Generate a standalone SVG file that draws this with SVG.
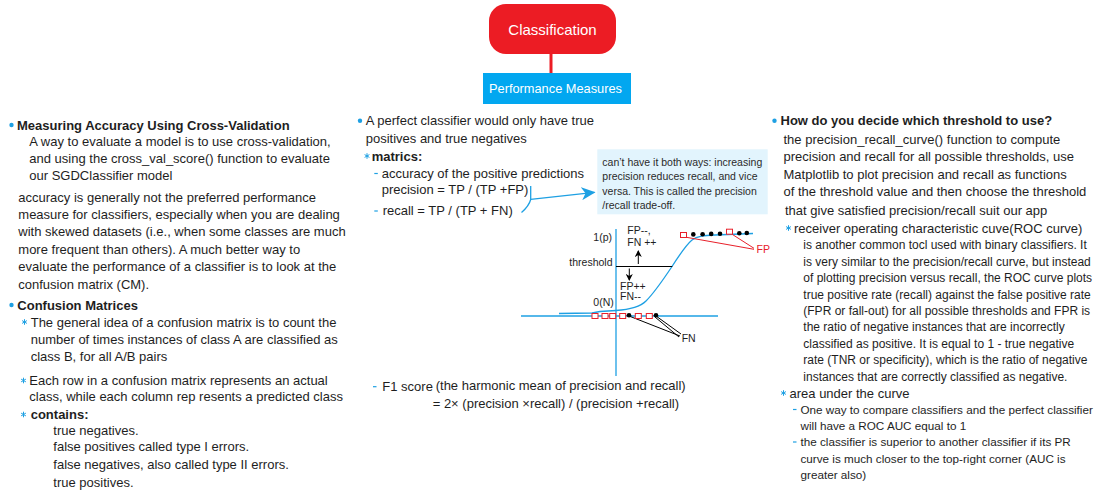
<svg xmlns="http://www.w3.org/2000/svg" xmlns:xlink="http://www.w3.org/1999/xlink" width="1096" height="492" viewBox="0 0 1096 492">
<style>
text{font-family:"Liberation Sans",Arial,sans-serif;fill:#1e1e1e}
.t{font-size:13px}
.b{font-size:13px;font-weight:bold}
.s{font-size:12px}
.ss{font-size:11.7px}
.c{font-size:10.5px;fill:#2a2a2a}
.g{font-size:10.5px}
.dot{fill:#1EA0E3}
.dash{stroke:#1EA0E3;stroke-width:1.2}
.ax{stroke:#1EA0E3;stroke-width:1.3;fill:none}
.sq{fill:#fff;stroke:#E8202A;stroke-width:1}
.rl{stroke:#E8202A;stroke-width:1;fill:none}
.bl{stroke:#000;stroke-width:1;fill:none}
</style>
<defs>
<g id="star"><path d="M0,-2.8V2.8M-2.4,-1.4L2.4,1.4M-2.4,1.4L2.4,-1.4" stroke="#1EA0E3" stroke-width="1" fill="none"/></g>
<marker id="bluearrow" markerWidth="14" markerHeight="13" refX="13" refY="6.5" orient="auto" markerUnits="userSpaceOnUse"><path d="M0,0L14,6.5L0,13L4,6.5z" fill="#1EA0E3"/></marker>
<marker id="blk" markerWidth="7" markerHeight="7" refX="6" refY="3.5" orient="auto" markerUnits="userSpaceOnUse"><path d="M0,0L7,3.5L0,7L2,3.5z" fill="#000"/></marker>
</defs>

<g id="connectors">
<line x1="551" y1="54" x2="551" y2="73" stroke="#EC1C24" stroke-width="3"/>
<path d="M530.7,186V199.5Q529,206 521.5,212.5" class="ax"/>
<path d="M530.7,199.3L594.5,192.3" class="ax" marker-end="url(#bluearrow)"/>
</g>

<g id="node-classification">
<rect x="489" y="4" width="127" height="50" rx="17" fill="#EC1C24"/>
<text x="552.5" y="34.5" text-anchor="middle" style="font-size:15px;fill:#fff">Classification</text>
</g>

<g id="node-performance">
<rect x="483" y="73" width="148" height="31" fill="#02A7F0"/>
<text x="555.5" y="92.8" text-anchor="middle" style="font-size:12.8px;fill:#fff">Performance Measures</text>
</g>

<g id="node-cross-validation">
<circle class="dot" cx="11.5" cy="125" r="2.2"/>
<text class="b" x="17" y="129.5">Measuring Accuracy Using Cross-Validation</text>
<text class="t" x="29.3" y="146.3">A way to evaluate a model is to use cross-validation,</text>
<text class="t" x="29.3" y="163">and using the cross_val_score() function to evaluate</text>
<text class="t" x="29.3" y="179.6">our SGDClassifier model</text>
<text class="t" x="18.3" y="202">accuracy is generally not the preferred performance</text>
<text class="t" x="18.3" y="219">measure for classifiers, especially when you are dealing</text>
<text class="t" x="18.3" y="236.3">with skewed datasets (i.e., when some classes are much</text>
<text class="t" x="18.3" y="253.6">more frequent than others). A much better way to</text>
<text class="t" x="18.3" y="271">evaluate the performance of a classifier is to look at the</text>
<text class="t" x="18.3" y="288.5">confusion matrix (CM).</text>
</g>

<g id="node-confusion">
<circle class="dot" cx="11.5" cy="305" r="2.2"/>
<text class="b" x="17.3" y="309.5">Confusion Matrices</text>
<use xlink:href="#star" x="24.5" y="322"/>
<text class="t" x="30.7" y="326.7">The general idea of a confusion matrix is to count the</text>
<text class="t" x="30.7" y="343.7">number of times instances of class A are classified as</text>
<text class="t" x="30.7" y="361.2">class B, for all A/B pairs</text>
<use xlink:href="#star" x="23.5" y="380.5"/>
<text class="t" x="29.3" y="384.7">Each row in a confusion matrix represents an actual</text>
<text class="t" x="29.3" y="401.3">class, while each column rep resents a predicted class</text>
<use xlink:href="#star" x="23.5" y="414.5"/>
<text class="b" x="30.7" y="419.3">contains:</text>
<text class="t" x="53.3" y="434.5">true negatives.</text>
<text class="t" x="53.3" y="451.2">false positives called type I errors.</text>
<text class="t" x="53.3" y="468.7">false negatives, also called type II errors.</text>
<text class="t" x="53.3" y="487">true positives.</text>
</g>

<g id="node-perfect">
<circle class="dot" cx="360" cy="120.7" r="2.2"/>
<text class="t" x="365.7" y="125.2">A perfect classifier would only have true</text>
<text class="t" x="365.7" y="142.7">positives and true negatives</text>
<use xlink:href="#star" x="367" y="156"/>
<text class="b" x="371.7" y="160.5">matrics:</text>
<line class="dash" x1="374.3" y1="173.5" x2="377.8" y2="173.5"/>
<text class="t" x="381.7" y="177.7">accuracy of the positive predictions</text>
<text class="t" x="381.7" y="193.5">precision = TP / (TP +FP)</text>
<line class="dash" x1="374.3" y1="211" x2="377.8" y2="211"/>
<text class="t" x="382.7" y="215.3">recall = TP / (TP + FN)</text>
<line class="dash" x1="373" y1="386.7" x2="376.5" y2="386.7"/>
<text class="t" x="382.3" y="391">F1 score</text>
<text class="t" x="435.7" y="390">(the harmonic mean of precision and recall)</text>
<text class="t" x="432.7" y="407.5">= 2× (precision ×recall) / (precision +recall)</text>
</g>

<g id="node-tradeoff">
<rect x="597.3" y="149.3" width="170.4" height="65" fill="#E2F4FD"/>
<text class="c" x="602.3" y="165.5">can’t have it both ways: increasing</text>
<text class="c" x="602.3" y="180">precision reduces recall, and vice</text>
<text class="c" x="602.3" y="194.5">versa. This is called the precision</text>
<text class="c" x="602.3" y="208.7">/recall trade-off.</text>
</g>

<g id="node-chart">
<line class="ax" x1="616" y1="229" x2="616" y2="376"/>
<line class="ax" x1="521" y1="316" x2="718" y2="316"/>
<path class="ax" d="M559,313.5L592,313L600,311.5L616,310.5C630,309.5 640,307 646,301C655,292 665,277 672,266.5C680,254 686,245 692,240C697,236 705,235.5 715,235L753,233.5"/>
<line class="bl" x1="616" y1="266.5" x2="672.3" y2="266.5"/>
<line class="bl" x1="638.3" y1="264" x2="638.3" y2="251" marker-end="url(#blk)"/>
<line class="bl" x1="629.3" y1="268.5" x2="629.3" y2="280" marker-end="url(#blk)"/>
<text class="g" x="593.3" y="240.5">1(p)</text>
<text class="g" x="569.3" y="266">threshold</text>
<text class="g" x="627.3" y="234">FP--,</text>
<text class="g" x="627.3" y="245.5">FN ++</text>
<text class="g" x="620" y="290">FP++</text>
<text class="g" x="620" y="300.3">FN--</text>
<text class="g" x="593.3" y="306">0(N)</text>
<line class="rl" x1="686.5" y1="237.3" x2="754" y2="249.3"/>
<line class="rl" x1="731.7" y1="234" x2="754" y2="248.3"/>
<rect class="sq" x="680.5" y="232.5" width="6" height="5"/>
<rect class="sq" x="726.5" y="229.2" width="6" height="5"/>
<circle cx="693.3" cy="234.4" r="2.3"/>
<circle cx="702.6" cy="234.2" r="2.3"/>
<circle cx="711.2" cy="233.9" r="2.3"/>
<circle cx="720" cy="233.7" r="2.3"/>
<circle cx="739.3" cy="233.3" r="2.3"/>
<circle cx="746.8" cy="233" r="2.3"/>
<text class="g" x="756.5" y="253.3" style="fill:#E8202A">FP</text>
<line class="bl" x1="629" y1="316" x2="680" y2="336"/>
<line class="bl" x1="656" y1="316" x2="681" y2="334"/>
<line class="bl" x1="655" y1="317" x2="679" y2="337"/>
<rect class="sq" x="592" y="313.5" width="6" height="5"/>
<rect class="sq" x="602" y="313.5" width="6" height="5"/>
<rect class="sq" x="609.7" y="313.5" width="6" height="5"/>
<rect class="sq" x="619.7" y="313.5" width="6" height="5"/>
<rect class="sq" x="635.3" y="313.5" width="6" height="5"/>
<rect class="sq" x="646.3" y="313.5" width="6" height="5"/>
<circle cx="629" cy="315.3" r="2.3"/>
<circle cx="656" cy="315.3" r="2.3"/>
<text class="g" x="681.7" y="341.5">FN</text>
</g>

<g id="node-threshold">
<circle class="dot" cx="774.5" cy="120.7" r="2.2"/>
<text class="b" x="780.5" y="125.2">How do you decide which threshold to use?</text>
<text class="t" x="783.5" y="143.5">the precision_recall_curve() function to compute</text>
<text class="t" x="783.5" y="161">precision and recall for all possible thresholds, use</text>
<text class="t" x="783.5" y="178.5">Matplotlib to plot precision and recall as functions</text>
<text class="t" x="783.5" y="196">of the threshold value and then choose the threshold</text>
<text class="t" x="785" y="214.5">that give satisfied precision/recall suit our app</text>
<use xlink:href="#star" x="788.5" y="228"/>
<text class="t" x="794" y="232.5">receiver operating characteristic cuve(ROC curve)</text>
<text class="s" x="803.3" y="249.3">is another common tocl used with binary classifiers. It</text>
<text class="s" x="803.3" y="265.7">is very similar to the precision/recall curve, but instead</text>
<text class="s" x="803.3" y="282.1">of plotting precision versus recall, the ROC  curve plots</text>
<text class="s" x="803.3" y="298.5">true positive rate (recall) against the false positive rate</text>
<text class="s" x="803.3" y="314.9">(FPR or fall-out) for all possible thresholds and FPR is</text>
<text class="s" x="803.3" y="331.3">the ratio of negative instances that are incorrectly</text>
<text class="s" x="803.3" y="347.7">classified as positive. It is equal to 1 - true negative</text>
<text class="s" x="803.3" y="364.1">rate (TNR or specificity), which is the ratio of negative</text>
<text class="s" x="803.3" y="380.5">instances that are correctly classified as negative.</text>
<use xlink:href="#star" x="783.5" y="393"/>
<text class="t" x="789.5" y="397.5">area under the curve</text>
<line class="dash" x1="793" y1="409.5" x2="796.5" y2="409.5"/>
<text class="ss" x="800.5" y="413.8">One way to compare classifiers and the perfect classifier</text>
<text class="ss" x="800.5" y="429.8">will have a ROC AUC equal to 1</text>
<line class="dash" x1="793" y1="442" x2="796.5" y2="442"/>
<text class="ss" x="800.5" y="446.3">the classifier is superior to another classifier if its PR</text>
<text class="ss" x="800.5" y="462.5">curve is much closer to the top-right corner (AUC is</text>
<text class="ss" x="800.5" y="478.8">greater also)</text>
</g>
</svg>
